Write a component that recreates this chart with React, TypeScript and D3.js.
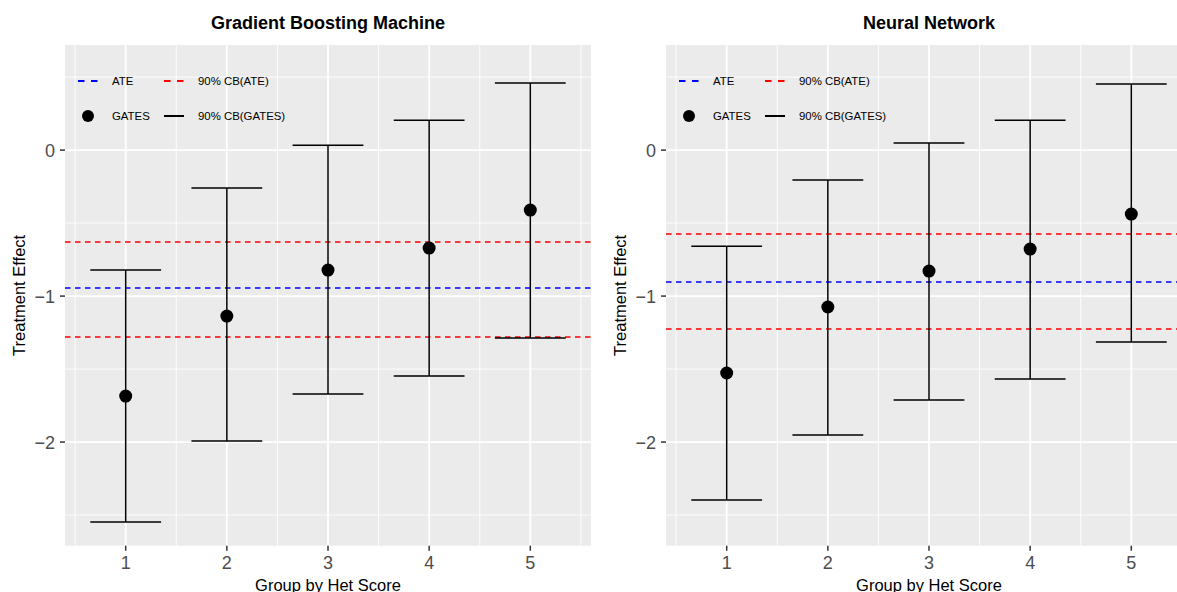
import React from "react";
import * as d3 from "d3";

const groups = [1, 2, 3, 4, 5];

// Gradient Boosting Machine
const gbmGates = [-1.685, -1.137, -0.822, -0.671, -0.411];
const gbmUpper = [-0.822, -0.26, 0.034, 0.205, 0.459];
const gbmLower = [-2.548, -1.993, -1.671, -1.548, -1.288];
const gbmAte = -0.945;
const gbmAteCB = [-0.63, -1.281];

// Neural Network
const nnGates = [-1.527, -1.075, -0.829, -0.678, -0.438];
const nnUpper = [-0.658, -0.205, 0.048, 0.205, 0.452];
const nnLower = [-2.397, -1.952, -1.712, -1.568, -1.315];
const nnAte = -0.904;
const nnAteCB = [-0.575, -1.226];

const yTicks = [0, -1, -2];
const yMinor = [0.5, -0.5, -1.5, -2.5];
const xMinor = [0.5, 1.5, 2.5, 3.5, 4.5, 5.5];

const FONT = "'Liberation Sans', Arial, Helvetica, sans-serif";

const W = 1177;
const H = 592;
const PANEL_W = 526;
const TOP = 45;
const BOTTOM = 545.7;

type PanelProps = {
  x0: number;
  title: string;
  gates: number[];
  upper: number[];
  lower: number[];
  ate: number;
  cb: number[];
};

function Panel({ x0, title, gates, upper, lower, ate, cb }: PanelProps) {
  const x = d3.scaleLinear().domain([0.4, 5.6]).range([x0, x0 + PANEL_W]);
  const y = d3.scaleLinear().domain([-2.71, 0.72]).range([BOTTOM, TOP]);
  const capHalf = x(0.35) - x(0);
  const xL = x0;
  const xR = x0 + PANEL_W;
  const lx = (d: number) => x0 + d;
  return (
    <g>
      <rect x={xL} y={TOP} width={PANEL_W} height={BOTTOM - TOP} fill="#EBEBEB" />
      {yMinor.map((v) => (
        <line key={"ym" + v} x1={xL} x2={xR} y1={y(v)} y2={y(v)} stroke="#fff" strokeWidth={0.9} />
      ))}
      {xMinor.map((v) => (
        <line key={"xm" + v} x1={x(v)} x2={x(v)} y1={TOP} y2={BOTTOM} stroke="#fff" strokeWidth={0.9} />
      ))}
      {yTicks.map((v) => (
        <line key={"yM" + v} x1={xL} x2={xR} y1={y(v)} y2={y(v)} stroke="#fff" strokeWidth={1.8} />
      ))}
      {groups.map((v) => (
        <line key={"xM" + v} x1={x(v)} x2={x(v)} y1={TOP} y2={BOTTOM} stroke="#fff" strokeWidth={1.8} />
      ))}
      <line x1={xL} x2={xR} y1={y(ate)} y2={y(ate)} stroke="#0000FF" strokeWidth={1.5} strokeDasharray="5.5,4.5" />
      {cb.map((v, i) => (
        <line key={"cb" + i} x1={xL} x2={xR} y1={y(v)} y2={y(v)} stroke="#FF0000" strokeWidth={1.5} strokeDasharray="5.5,4.5" />
      ))}
      {groups.map((g, i) => (
        <g key={"eb" + g} stroke="#000" strokeWidth={1.5} fill="none">
          <line x1={x(g)} x2={x(g)} y1={y(upper[i])} y2={y(lower[i])} />
          <line x1={x(g) - capHalf} x2={x(g) + capHalf} y1={y(upper[i])} y2={y(upper[i])} />
          <line x1={x(g) - capHalf} x2={x(g) + capHalf} y1={y(lower[i])} y2={y(lower[i])} />
        </g>
      ))}
      {groups.map((g, i) => (
        <circle key={"pt" + g} cx={x(g)} cy={y(gates[i])} r={6.5} fill="#000" />
      ))}
      <g fontFamily={FONT} fontSize={11.4} fill="#000">
        <line x1={lx(13)} x2={lx(33)} y1={81} y2={81} stroke="#0000FF" strokeWidth={2} strokeDasharray="6.5,6.5" />
        <text x={lx(47)} y={81} dy="0.35em">ATE</text>
        <line x1={lx(99)} x2={lx(119)} y1={81} y2={81} stroke="#FF0000" strokeWidth={2} strokeDasharray="6.5,6.5" />
        <text x={lx(133)} y={81} dy="0.35em">90% CB(ATE)</text>
        <circle cx={lx(23)} cy={116} r={6} fill="#000" />
        <text x={lx(47)} y={116} dy="0.35em">GATES</text>
        <line x1={lx(99)} x2={lx(119)} y1={116} y2={116} stroke="#000" strokeWidth={2} />
        <text x={lx(133)} y={116} dy="0.35em">90% CB(GATES)</text>
      </g>
      {yTicks.map((v) => (
        <g key={"yt" + v}>
          <line x1={xL - 5} x2={xL} y1={y(v)} y2={y(v)} stroke="#333" strokeWidth={1.5} />
          <text x={xL - 10} y={y(v)} dy="0.36em" textAnchor="end" fontFamily={FONT} fontSize={18} fill="#4D4D4D">
            {v < 0 ? "\u2212" + Math.abs(v) : String(v)}
          </text>
        </g>
      ))}
      {groups.map((g) => (
        <g key={"xt" + g}>
          <line x1={x(g)} x2={x(g)} y1={BOTTOM} y2={BOTTOM + 5} stroke="#333" strokeWidth={1.5} />
          <text x={x(g)} y={569.3} textAnchor="middle" fontFamily={FONT} fontSize={18} fill="#4D4D4D">
            {g}
          </text>
        </g>
      ))}
      <text x={(xL + xR) / 2} y={591} textAnchor="middle" fontFamily={FONT} fontSize={16.5} fill="#000">
        Group by Het Score
      </text>
      <text
        transform={`translate(${xL - 40},${(TOP + BOTTOM) / 2}) rotate(-90)`}
        textAnchor="middle"
        fontFamily={FONT}
        fontSize={16.5}
        fill="#000"
      >
        Treatment Effect
      </text>
      <text x={(xL + xR) / 2} y={29} textAnchor="middle" fontFamily={FONT} fontSize={18} fontWeight="bold" fill="#000">
        {title}
      </text>
    </g>
  );
}

export default function App() {
  return (
    <svg
      width={W}
      height={H}
      viewBox={`0 0 ${W} ${H}`}
      style={{ position: "absolute", left: 0, top: 0, background: "#fff" }}
    >
      <rect x={0} y={0} width={W} height={H} fill="#fff" />
      <Panel x0={65} title="Gradient Boosting Machine" gates={gbmGates} upper={gbmUpper} lower={gbmLower} ate={gbmAte} cb={gbmAteCB} />
      <Panel x0={666} title="Neural Network" gates={nnGates} upper={nnUpper} lower={nnLower} ate={nnAte} cb={nnAteCB} />
    </svg>
  );
}
